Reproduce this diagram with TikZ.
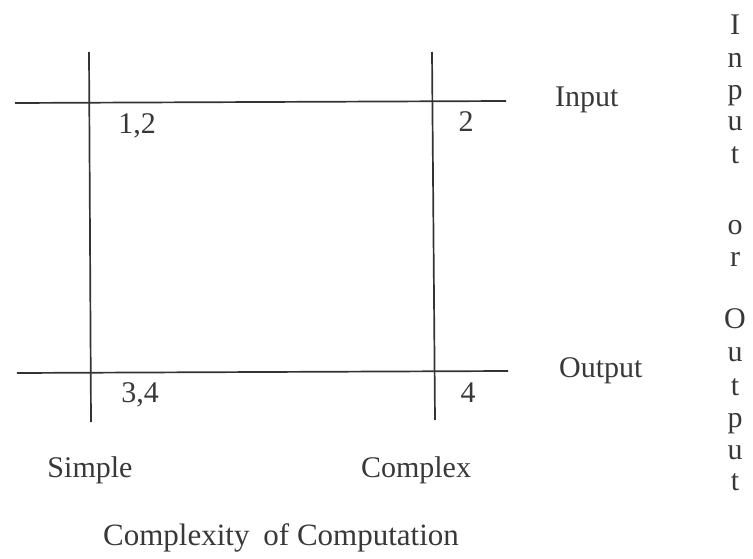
\documentclass[tikz,border=0pt]{standalone}
\usepackage{fontspec}
\setmainfont{Liberation Serif}
\begin{document}
\begin{tikzpicture}[x=1pt,y=-1pt,
  gridline/.style={line width=1.7pt,draw=black!80},
  lbl/.style={inner sep=0pt,anchor=base,text=black!78,font=\fontsize{30}{34}\selectfont},
  vletter/.style={lbl,text height=0.6em,text depth=0.1em}]
\useasboundingbox (0,0) rectangle (753,559);
% line end points
\coordinate (tl) at (15,103);
\coordinate (tr) at (506,101);
\coordinate (bl) at (17,373);
\coordinate (br) at (508,371);
\coordinate (lt) at (89,52);
\coordinate (lb) at (91,422);
\coordinate (rt) at (432,52);
\coordinate (rb) at (435,420);
\draw[gridline] (tl) -- (tr);
\draw[gridline] (bl) -- (br);
\draw[gridline] (lt) -- (lb);
\draw[gridline] (rt) -- (rb);
% cell labels
\node[lbl] (c12) at (137,134) {1,2};
\node[lbl] (c2)  at (466,132) {2};
\node[lbl] (c34) at (140,402) {3,4};
\node[lbl] (c4)  at (468,402) {4};
% row labels
\node[lbl,anchor=base west] (inp) at (555,107) {Input};
\node[lbl,anchor=base west] (outp) at (559,377) {Output};
% column labels
\node[lbl] (simple) at (90,477) {Simple};
\node[lbl] (complex) at (416,477) {Complex};
\node[lbl,font=\fontsize{31}{34}\selectfont] (cc) at (281,545) {Complexity\hspace{0.45em}of Computation};
% vertical text
\node[vletter] (v1) at (735,35) {I};
\node[vletter] (v2) at (735,68) {n};
\node[vletter] (v3) at (735,100) {p};
\node[vletter] (v4) at (735,131) {u};
\node[vletter] (v5) at (735,164) {t};
\node[vletter] (v6) at (735,234) {o};
\node[vletter] (v7) at (735,266) {r};
\node[vletter] (v8) at (735,328) {O};
\node[vletter] (v9) at (735,361) {u};
\node[vletter] (v10) at (735,395) {t};
\node[vletter] (v11) at (735,427) {p};
\node[vletter] (v12) at (735,459) {u};
\node[vletter] (v13) at (735,490) {t};
\end{tikzpicture}
\end{document}
